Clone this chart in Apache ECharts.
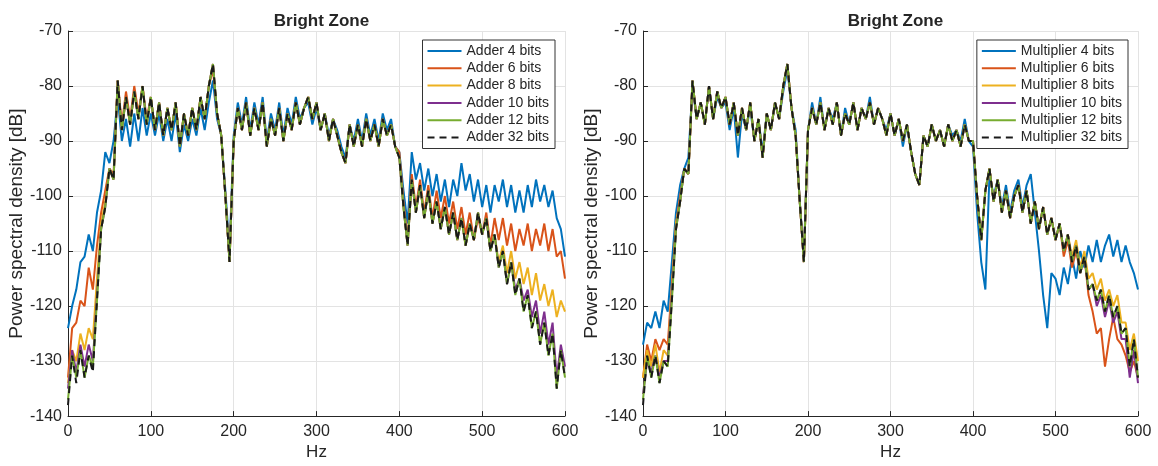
<!DOCTYPE html>
<html>
<head>
<meta charset="utf-8">
<script src="https://cdn.jsdelivr.net/npm/echarts@6/dist/echarts.min.js"></script>
<style>
html,body{margin:0;padding:0;background:#fff;}
#chart{width:1158px;height:466px;}
</style>
</head>
<body>
<div id="chart"></div>
<script>
// Frequency grid (Hz), 5 Hz spacing from 0 to 600
const freqStep = 5;
const xTicks = [0, 100, 200, 300, 400, 500, 600];
const yTicks = [-140, -130, -120, -110, -100, -90, -80, -70];
const chartTitles = ['Bright Zone', 'Bright Zone'];

const adderNames = ['Adder 4 bits', 'Adder 6 bits', 'Adder 8 bits', 'Adder 10 bits', 'Adder 12 bits', 'Adder 32 bits'];
const multNames = ['Multiplier 4 bits', 'Multiplier 6 bits', 'Multiplier 8 bits', 'Multiplier 10 bits', 'Multiplier 12 bits', 'Multiplier 32 bits'];

// ---------- Left panel: Adder ----------
const adder4 = [
 -124,-120,-117,-112,-111,-107,-110,-103,-99,-92,
 -94,-90,-82,-90,-86,-91,-85,-90,-84,-89,
 -85,-89,-85,-90,-86,-90,-85,-92,-87,-90,
 -86,-89,-84,-88,-83,-79,-86,-89,-99,-110,
 -89,-83,-87,-82,-88,-83,-87,-82,-90,-85,
 -88,-83,-89,-84,-87,-82,-86,-84,-83,-87,
 -84,-88,-85,-89,-86,-88,-91,-93,-87,-90,
 -86,-90,-85,-89,-86,-90,-85,-88,-86,-91,
 -92,-99,-105,-92,-97,-94,-99,-95,-100,-96,
 -101,-97,-102,-97,-100,-94,-99,-96,-101,-97,
 -102,-98,-103,-98,-101,-97,-102,-98,-103,-99,
 -103,-98,-102,-97,-101,-98,-102,-99,-104,-106,
 -111];
const adder6 = [
 -133,-124,-123,-119,-120,-113,-117,-109,-103,-99,
 -95,-96,-79,-87,-81,-86,-80,-85,-80,-86,
 -82,-88,-83,-89,-84,-88,-83,-91,-85,-89,
 -84,-88,-82,-86,-80,-77,-85,-89,-100,-112,
 -90,-84,-88,-83,-89,-84,-88,-83,-91,-86,
 -89,-84,-90,-85,-88,-83,-87,-84,-82,-86,
 -83,-88,-85,-90,-86,-89,-92,-94,-87,-91,
 -87,-91,-86,-90,-87,-91,-86,-89,-87,-91,
 -92,-101,-108,-96,-102,-97,-103,-98,-104,-99,
 -104,-100,-105,-101,-106,-102,-107,-103,-108,-104,
 -107,-103,-109,-104,-108,-104,-109,-105,-110,-106,
 -109,-105,-110,-106,-109,-105,-110,-106,-111,-110,
 -115];
const adder8 = [
 -134,-128,-130,-125,-128,-124,-126,-115,-105,-101,
 -95,-97,-79,-88,-82,-87,-81,-86,-80,-87,
 -82,-88,-83,-89,-84,-88,-83,-91,-85,-89,
 -84,-88,-82,-86,-80,-76,-85,-89,-100,-112,
 -90,-84,-88,-83,-89,-84,-88,-83,-91,-86,
 -89,-84,-90,-85,-88,-83,-87,-84,-82,-86,
 -83,-88,-85,-90,-86,-89,-92,-94,-87,-91,
 -87,-91,-86,-90,-87,-91,-86,-89,-87,-91,
 -93,-102,-109,-97,-103,-98,-104,-99,-105,-101,
 -106,-102,-107,-103,-108,-104,-109,-105,-108,-103,
 -107,-104,-110,-107,-112,-109,-114,-110,-115,-112,
 -116,-113,-118,-114,-119,-116,-120,-117,-122,-119,
 -121];
const adder10 = [
 -135,-128,-132,-127,-131,-127,-130,-118,-106,-102,
 -95,-97,-79,-88,-82,-87,-81,-86,-80,-87,
 -82,-88,-83,-89,-84,-88,-83,-91,-85,-89,
 -84,-88,-82,-86,-80,-76,-85,-89,-100,-112,
 -90,-84,-88,-83,-89,-84,-88,-83,-91,-86,
 -89,-84,-90,-85,-88,-83,-87,-84,-82,-86,
 -83,-88,-85,-90,-86,-89,-92,-94,-87,-91,
 -87,-91,-86,-90,-87,-91,-86,-89,-87,-91,
 -93,-102,-109,-97,-103,-98,-104,-99,-105,-101,
 -106,-102,-107,-103,-108,-104,-109,-105,-108,-103,
 -107,-104,-110,-107,-113,-110,-116,-112,-117,-115,
 -119,-117,-122,-119,-125,-121,-127,-123,-133,-127,
 -131];
const adder12 = [
 -137,-129,-133,-128,-133,-129,-131,-119,-106,-102,
 -95,-97,-79,-88,-82,-87,-81,-86,-80,-87,
 -82,-88,-83,-89,-84,-88,-83,-91,-85,-89,
 -84,-88,-82,-86,-80,-76,-85,-89,-100,-112,
 -90,-84,-88,-83,-89,-84,-88,-83,-91,-86,
 -89,-84,-90,-85,-88,-83,-87,-84,-82,-86,
 -83,-88,-85,-90,-86,-89,-92,-94,-87,-91,
 -87,-91,-86,-90,-87,-91,-86,-89,-87,-91,
 -93,-102,-109,-97,-103,-98,-104,-99,-105,-101,
 -106,-102,-107,-103,-108,-104,-109,-105,-108,-103,
 -107,-104,-110,-107,-113,-110,-116,-112,-118,-115,
 -121,-118,-124,-121,-127,-123,-129,-125,-135,-128,
 -133];
const adder32 = [
 -138,-129,-134,-128,-133,-129,-132,-119,-106,-102,
 -95,-97,-79,-88,-82,-87,-81,-86,-80,-87,
 -82,-88,-83,-89,-84,-88,-83,-91,-85,-89,
 -84,-88,-82,-86,-80,-76,-85,-89,-100,-112,
 -90,-84,-88,-83,-89,-84,-88,-83,-91,-86,
 -89,-84,-90,-85,-88,-83,-87,-84,-82,-86,
 -83,-88,-85,-90,-86,-89,-92,-94,-87,-91,
 -87,-91,-86,-90,-87,-91,-86,-89,-87,-91,
 -93,-102,-109,-97,-103,-98,-104,-99,-105,-101,
 -106,-102,-107,-103,-108,-104,-109,-105,-108,-103,
 -107,-104,-110,-107,-113,-110,-116,-112,-118,-115,
 -121,-118,-124,-121,-127,-123,-129,-125,-135,-128,
 -133];

// ---------- Right panel: Multiplier ----------
const mult4 = [
 -127,-123,-124,-121,-124,-119,-121,-112,-103,-98,
 -95,-93,-80,-86,-83,-87,-80,-86,-82,-84,
 -83,-88,-84,-93,-85,-88,-84,-90,-86,-92,
 -85,-88,-83,-86,-81,-77,-84,-88,-101,-111,
 -88,-83,-87,-82,-88,-84,-86,-83,-89,-84,
 -87,-83,-88,-84,-86,-82,-87,-84,-86,-88,
 -85,-89,-86,-91,-87,-92,-96,-98,-89,-91,
 -87,-90,-88,-91,-87,-89,-88,-90,-86,-90,
 -91,-103,-112,-117,-96,-100,-97,-102,-98,-103,
 -99,-97,-102,-98,-96,-103,-110,-118,-124,-114,
 -115,-118,-113,-116,-111,-115,-110,-113,-109,-112,
 -108,-112,-109,-107,-111,-108,-112,-109,-112,-114,
 -117];
const mult6 = [
 -133,-127,-130,-126,-128,-126,-127,-116,-105,-100,
 -95,-96,-79,-86,-83,-87,-80,-86,-81,-84,
 -82,-87,-83,-89,-84,-88,-83,-90,-86,-93,
 -85,-88,-83,-86,-80,-76,-84,-89,-101,-112,
 -88,-84,-87,-83,-88,-84,-87,-83,-89,-85,
 -87,-83,-88,-84,-86,-83,-87,-84,-86,-89,
 -85,-89,-86,-90,-87,-92,-96,-98,-89,-91,
 -87,-90,-88,-91,-87,-90,-88,-91,-87,-90,
 -90,-100,-108,-99,-95,-101,-97,-103,-99,-104,
 -100,-98,-103,-99,-105,-101,-106,-102,-107,-104,
 -108,-105,-111,-108,-113,-110,-114,-111,-118,-121,
 -125,-124,-131,-126,-122,-126,-127,-129,-132,-130,
 -133];
const mult8 = [
 -133,-128,-131,-127,-132,-128,-129,-117,-105,-101,
 -95,-96,-79,-86,-83,-87,-80,-86,-81,-84,
 -82,-87,-83,-89,-84,-88,-83,-90,-86,-93,
 -85,-88,-83,-86,-80,-76,-84,-89,-101,-112,
 -88,-84,-87,-83,-88,-84,-87,-83,-89,-85,
 -87,-83,-88,-84,-86,-83,-87,-84,-86,-89,
 -85,-89,-86,-90,-87,-92,-96,-98,-89,-91,
 -87,-90,-88,-91,-87,-90,-88,-91,-87,-90,
 -90,-100,-108,-99,-95,-101,-97,-103,-99,-104,
 -100,-98,-103,-99,-105,-101,-106,-102,-107,-104,
 -108,-105,-110,-107,-111,-108,-113,-110,-115,-114,
 -117,-115,-119,-117,-120,-118,-123,-123,-128,-125,
 -130];
const mult10 = [
 -136,-130,-132,-129,-133,-130,-130,-118,-106,-101,
 -95,-96,-79,-86,-83,-87,-80,-86,-81,-84,
 -82,-87,-83,-89,-84,-88,-83,-90,-86,-93,
 -85,-88,-83,-86,-80,-76,-84,-89,-101,-112,
 -88,-84,-87,-83,-88,-84,-87,-83,-89,-85,
 -87,-83,-88,-84,-86,-83,-87,-84,-86,-89,
 -85,-89,-86,-90,-87,-92,-96,-98,-89,-91,
 -87,-90,-88,-91,-87,-90,-88,-91,-87,-90,
 -90,-100,-108,-99,-95,-101,-97,-103,-99,-104,
 -100,-98,-103,-99,-105,-101,-106,-102,-107,-104,
 -108,-105,-110,-107,-112,-109,-114,-111,-117,-116,
 -120,-118,-122,-119,-123,-121,-126,-126,-133,-128,
 -134];
const mult12 = [
 -137,-129,-133,-129,-134,-130,-131,-119,-106,-101,
 -95,-96,-79,-86,-83,-87,-80,-86,-81,-84,
 -82,-87,-83,-89,-84,-88,-83,-90,-86,-93,
 -85,-88,-83,-86,-80,-76,-84,-89,-101,-112,
 -88,-84,-87,-83,-88,-84,-87,-83,-89,-85,
 -87,-83,-88,-84,-86,-83,-87,-84,-86,-89,
 -85,-89,-86,-90,-87,-92,-96,-98,-89,-91,
 -87,-90,-88,-91,-87,-90,-88,-91,-87,-90,
 -90,-100,-108,-99,-95,-101,-97,-103,-99,-104,
 -100,-98,-103,-99,-105,-101,-106,-102,-107,-104,
 -108,-105,-110,-107,-112,-109,-114,-111,-117,-116,
 -119,-117,-121,-118,-122,-120,-125,-124,-131,-126,
 -133];
const mult32 = [
 -138,-129,-133,-129,-134,-130,-131,-119,-106,-101,
 -95,-96,-79,-86,-83,-87,-80,-86,-81,-84,
 -82,-87,-83,-89,-84,-88,-83,-90,-86,-93,
 -85,-88,-83,-86,-80,-76,-84,-89,-101,-112,
 -88,-84,-87,-83,-88,-84,-87,-83,-89,-85,
 -87,-83,-88,-84,-86,-83,-87,-84,-86,-89,
 -85,-89,-86,-90,-87,-92,-96,-98,-89,-91,
 -87,-90,-88,-91,-87,-90,-88,-91,-87,-90,
 -90,-100,-108,-99,-95,-101,-97,-103,-99,-104,
 -100,-98,-103,-99,-105,-101,-106,-102,-107,-104,
 -108,-105,-110,-107,-112,-109,-114,-111,-117,-116,
 -119,-117,-121,-118,-122,-120,-125,-124,-131,-126,
 -133];

const colors = ['#0072BD', '#D95319', '#EDB120', '#7E2F8E', '#77AC30', '#1a1a1a'];
const font = 'Arial, "Liberation Sans", Helvetica, sans-serif';
const txt = '#262626';

function pairs(vals) { return vals.map((v, i) => [i * freqStep, v]); }

function makeSeries(names, arrays, idx) {
  return names.map((n, k) => ({
    type: 'line', name: n, xAxisIndex: idx, yAxisIndex: idx,
    data: pairs(arrays[k]), symbol: 'none', showSymbol: false,
    itemStyle: { color: colors[k] },
    lineStyle: { width: 2, color: colors[k], type: k === 5 ? [7, 5] : 'solid' },
    z: 2 + k, animation: false
  }));
}

function xAxis(gi) {
  return {
    type: 'value', gridIndex: gi, min: 0, max: 600, interval: 100,
    name: 'Hz', nameLocation: 'middle', nameGap: 27,
    nameTextStyle: { fontSize: 17, color: txt, fontFamily: font },
    axisLine: { show: true, lineStyle: { color: txt, width: 1 } },
    axisTick: { show: true, inside: true, length: 5, lineStyle: { color: txt } },
    axisLabel: { fontSize: 16, color: txt, fontFamily: font, margin: 7,
      formatter: v => xTicks.indexOf(v) >= 0 ? String(v) : '' },
    splitLine: { show: true, lineStyle: { color: '#e3e3e3', width: 1 } }
  };
}
function yAxis(gi) {
  return {
    type: 'value', gridIndex: gi, min: -140, max: -70, interval: 10,
    name: 'Power spectral density [dB]', nameLocation: 'middle', nameGap: 40,
    nameTextStyle: { fontSize: 19, color: txt, fontFamily: font },
    axisLine: { show: true, lineStyle: { color: txt, width: 1 } },
    axisTick: { show: true, inside: true, length: 5, lineStyle: { color: txt } },
    axisLabel: { fontSize: 16, color: txt, fontFamily: font, margin: 6,
      formatter: v => yTicks.indexOf(v) >= 0 ? String(v) : '' },
    splitLine: { show: true, lineStyle: { color: '#e3e3e3', width: 1 } }
  };
}
function legend(names, right) {
  return {
    data: names, orient: 'vertical', right: right, top: 40,
    backgroundColor: '#fff', borderColor: '#333', borderWidth: 1,
    padding: [4, 6, 4, 4], itemWidth: 34, itemHeight: 14, itemGap: 3.3,
    itemStyle: { opacity: 0 },
    textStyle: { fontSize: 14, color: txt, fontFamily: font },
    selectedMode: false
  };
}

const option = {
  backgroundColor: '#fff',
  animation: false,
  title: [
    { text: chartTitles[0], left: 316.5, textAlign: 'center', top: 8,
      textStyle: { fontSize: 17, fontWeight: 'bold', color: txt, fontFamily: font } },
    { text: chartTitles[1], left: 890.5, textAlign: 'center', top: 8,
      textStyle: { fontSize: 17, fontWeight: 'bold', color: txt, fontFamily: font } }
  ],
  grid: [
    { left: 68, right: 593, top: 31, bottom: 45 },
    { left: 643, right: 20, top: 31, bottom: 45 }
  ],
  xAxis: [xAxis(0), xAxis(1)],
  yAxis: [yAxis(0), yAxis(1)],
  legend: [legend(adderNames, 603), legend(multNames, 30)],
  series: [
    ...makeSeries(adderNames, [adder4, adder6, adder8, adder10, adder12, adder32], 0),
    ...makeSeries(multNames, [mult4, mult6, mult8, mult10, mult12, mult32], 1)
  ]
};

const chart = echarts.init(document.getElementById('chart'), null, { renderer: 'canvas' });
chart.setOption(option);
</script>
</body>
</html>
